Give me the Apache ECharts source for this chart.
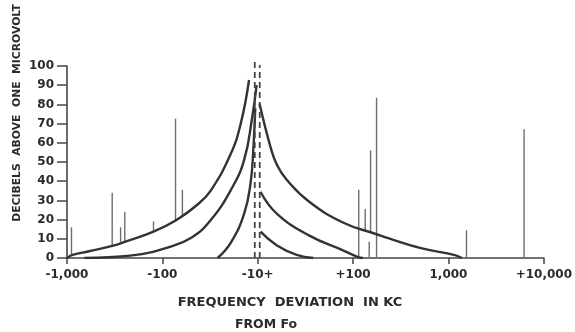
<!DOCTYPE html>
<html>
<head>
<meta charset="utf-8">
<script src="https://cdn.jsdelivr.net/npm/echarts@6/dist/echarts.min.js"></script>
<style>
  html, body { margin: 0; background: #fff; }
  #chart { width: 575px; height: 332px; }
</style>
</head>
<body>
<div id="chart"></div>
<script>
// x is a folded log scale: one unit per decade, 0 = the +/-10 kc centre
const xTickLabels = ['-1,000', '-100', '-10+', '+100', '1,000', '+10,000'];

// selectivity curves, left of centre
const leftOuterX = [-2.0, -1.94, -1.77, -1.526, -1.387, -1.093, -0.852, -0.627, -0.489, -0.285, -0.178, -0.091];
const leftOuterY = [0, 1.6, 3.5, 6.3, 8.5, 13.7, 19.8, 28, 35.4, 54, 70, 92.7];
const leftMidX = [-1.82, -1.56, -1.215, -0.972, -0.696, -0.492, -0.282, -0.143, -0.057, -0.012];
const leftMidY = [0, 0.4, 2, 5, 10.6, 19.8, 35.4, 51, 73.6, 90];
const leftInnerX = [-0.42, -0.282, -0.143, -0.075, -0.047, -0.026];
const leftInnerY = [0, 8, 23, 39, 56, 78];

// right of centre
const rightOuterX = [0.019, 0.133, 0.202, 0.306, 0.547, 0.893, 1.238, 1.376, 1.722, 2.067, 2.14];
const rightOuterY = [80.5, 58, 48.4, 40.6, 29, 18.5, 12.5, 10.2, 5, 1.5, 0];
const rightMidX = [0.029, 0.202, 0.547, 0.893, 1.052, 1.104];
const rightMidY = [34.5, 23, 11.5, 4, 0.5, 0];
const rightInnerX = [0.029, 0.202, 0.409, 0.582];
const rightInnerY = [13.7, 6.5, 1.6, 0];

// interfering signals
const spikeX = [-1.953, -1.526, -1.438, -1.394, -1.093, -0.862, -0.79, 1.059, 1.127, 1.169, 1.183, 1.246, 2.189, 2.793];
const spikeBase = [1.2, 6.3, 7.5, 8.3, 13.7, 19.5, 21.5, 0, 13.8, 0, 13.4, 0, 0, 0];
const spikeTop = [16, 34, 16, 24, 19, 72.5, 35.5, 35.5, 25.5, 8.5, 56, 83.5, 14.5, 67];

// dashed centre markers
const dashX = [-0.031, 0.021];
const dashTop = [103, 100.5];

const ink = '#333';
const pairs = (xs, ys) => xs.map((x, i) => [x, ys[i]]);

const curveSeries = [
  [leftOuterX, leftOuterY], [leftMidX, leftMidY], [leftInnerX, leftInnerY],
  [rightOuterX, rightOuterY], [rightMidX, rightMidY], [rightInnerX, rightInnerY]
].map(c => ({
  type: 'line',
  data: pairs(c[0], c[1]),
  smooth: 0.45,
  symbol: 'none',
  silent: true,
  z: 3,
  lineStyle: { color: ink, width: 2.4 }
}));

const spikeSeries = spikeX.map((x, i) => ({
  type: 'line',
  data: [[x, spikeBase[i]], [x, spikeTop[i]]],
  symbol: 'none',
  silent: true,
  z: 2,
  lineStyle: { color: '#6e6e6e', width: 1.4 }
}));

const dashSeries = dashX.map((x, i) => ({
  type: 'line',
  data: [[x, 0], [x, dashTop[i]]],
  symbol: 'none',
  silent: true,
  clip: false,
  z: 4,
  lineStyle: { color: '#444', width: 1.8, type: [6, 4] }
}));

const labelFont = { color: '#2b2b2b', fontFamily: 'DejaVu Sans', fontWeight: 'bold', fontSize: 12 };

const chart = echarts.init(document.getElementById('chart'));
chart.setOption({
  animation: false,
  backgroundColor: '#fff',
  grid: { left: 67, right: 25, top: 66, bottom: 74 },
  xAxis: {
    type: 'value',
    min: -2,
    max: 3,
    interval: 1,
    axisLine: { onZero: false, lineStyle: { color: '#444', width: 1.6 } },
    axisTick: { length: 6, lineStyle: { color: '#444', width: 1.5 } },
    axisLabel: Object.assign({ margin: 11, formatter: v => xTickLabels[Math.round(v) + 2] }, labelFont),
    splitLine: { show: false }
  },
  yAxis: {
    type: 'value',
    min: 0,
    max: 100,
    interval: 10,
    axisLine: { show: true, onZero: false, lineStyle: { color: '#444', width: 1.6 } },
    axisTick: { show: true, length: 10, lineStyle: { color: '#444', width: 1.5 } },
    axisLabel: Object.assign({ margin: 13 }, labelFont),
    splitLine: { show: false }
  },
  graphic: [
    {
      type: 'text', x: 17, y: 113, rotation: Math.PI / 2,
      style: { text: 'DECIBELS  ABOVE  ONE  MICROVOLT', fill: '#2b2b2b', font: 'bold 10.8px "DejaVu Sans"', align: 'center', verticalAlign: 'middle' }
    },
    {
      type: 'text', x: 290, y: 303,
      style: { text: 'FREQUENCY  DEVIATION  IN KC', fill: '#2b2b2b', font: 'bold 13px "DejaVu Sans"', align: 'center', verticalAlign: 'middle' }
    },
    {
      type: 'text', x: 266, y: 325,
      style: { text: 'FROM Fo', fill: '#2b2b2b', font: 'bold 12.5px "DejaVu Sans"', align: 'center', verticalAlign: 'middle' }
    }
  ],
  series: spikeSeries.concat(curveSeries, dashSeries)
});
</script>
</body>
</html>
